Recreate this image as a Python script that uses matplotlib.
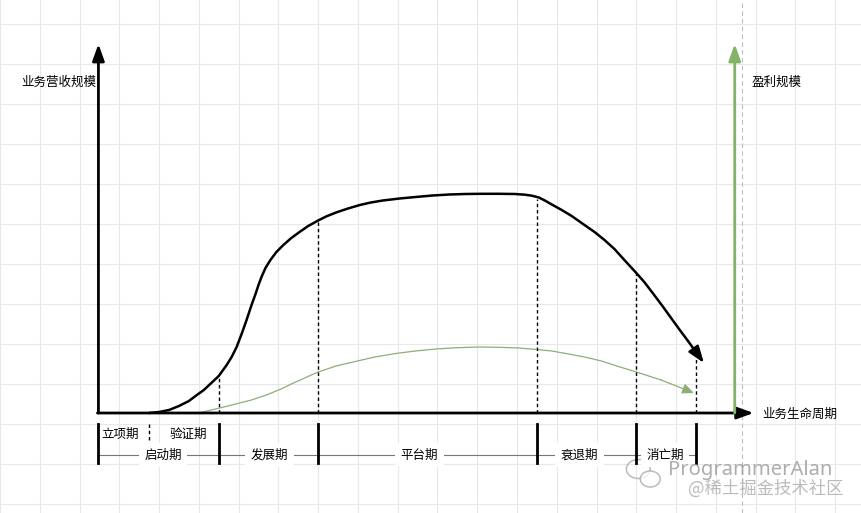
import numpy as np
import matplotlib.pyplot as plt
from matplotlib.patches import Ellipse

plt.rcParams['font.family'] = ['Noto Sans CJK SC', 'DejaVu Sans']

# Business revenue curve (x along lifecycle, height above baseline).
revenue_x = [145, 155, 165, 175, 185, 193, 200, 207, 215, 223, 228, 233, 238, 243, 248, 252, 255, 258, 262,
             267, 273, 280, 288, 297, 305, 315, 323, 333, 345, 357, 368, 380, 397, 413, 430, 447, 463,
             480, 497, 513, 523, 530, 537, 543, 550, 560, 570, 580, 593, 603, 613, 623, 635, 643, 653,
             662, 670, 678, 687, 703]
revenue_h = [0, 1, 3, 7, 12, 18, 23, 29.5, 37, 48, 56, 66, 79, 93, 108, 119, 128, 136, 145,
             153, 161, 168, 175, 181.5, 187, 192.5, 196.5, 200.5, 204.5, 208, 210.5, 212.5, 214.5, 216, 217.5, 218.5, 219,
             219.2, 219.2, 219, 218.3, 217.3, 215.5, 212.5, 208.5, 203, 197, 190, 181, 173, 164, 153, 140, 131, 118,
             106, 95, 84, 72, 50]

# Profit curve.
profit_x = [195, 220, 248, 263, 280, 288, 297, 307, 315, 333, 350, 372, 393, 413, 433, 455, 477, 497,
            517, 535, 550, 567, 583, 600, 617, 635, 660, 693]
profit_h = [0, 6, 13, 18, 25, 29, 33, 37.5, 41, 47, 51, 56, 59.5, 62, 64, 65.3, 66, 65.7,
            65, 63.5, 62, 59, 56, 52, 46.5, 41, 33, 20]

# Phase boundaries and stage labels.
phase_bounds = [94, 215, 315, 535, 635, 695]
phase_tops = [None, 37, 193, 214, 140, 55]
phase_names = ['启动期', '发展期', '平台期', '衰退期', '消亡期']
phase_label_x = [159, 266, 417, 578, 664]
sub_bound = 145
sub_names = ['立项期', '验证期']
sub_label_x = [116, 184]

fig = plt.figure(figsize=(8.61, 5.13), dpi=100)
ax = fig.add_axes([0, 0, 1, 1])
ax.set_xlim(0, 861)
ax.set_ylim(-100, 413)

# Background grid.
ax.set_xticks(np.arange(-5, 861, 40))
ax.set_yticks(np.arange(-91, 413, 40))
ax.grid(True, color='#e8e8e8', lw=0.8)
ax.set_axisbelow(True)
ax.tick_params(length=0, labelbottom=False, labelleft=False)
for s in ax.spines.values():
    s.set_visible(False)
ax.axvline(741, color='#bdbdbd', lw=0.8, ls=(0, (4, 3)))

head = '-|>,head_length=0.5,head_width=0.18'

# Axes arrows.
ax.annotate('', xy=(94, 369), xytext=(94, 0),
            arrowprops=dict(arrowstyle=head, color='black', lw=2, mutation_scale=20, shrinkA=0, shrinkB=0))
ax.annotate('', xy=(753, 0), xytext=(93, 0),
            arrowprops=dict(arrowstyle=head, color='black', lw=2, mutation_scale=20, shrinkA=0, shrinkB=0))
ax.annotate('', xy=(734, 369), xytext=(734, 0),
            arrowprops=dict(arrowstyle=head, color='#82b366', lw=2, mutation_scale=20, shrinkA=0, shrinkB=0))

# Curves.
ax.plot(revenue_x[:-1], revenue_h[:-1], color='black', lw=1.8, solid_capstyle='round', solid_joinstyle='round')
ax.annotate('', xy=(revenue_x[-1], revenue_h[-1]), xytext=(revenue_x[-2], revenue_h[-2]),
            arrowprops=dict(arrowstyle=head, color='black', lw=1.8, mutation_scale=20, shrinkA=0, shrinkB=0))
ax.plot(profit_x[:-1], profit_h[:-1], color='#8fae77', lw=0.9)
ax.annotate('', xy=(profit_x[-1], profit_h[-1]), xytext=(profit_x[-2], profit_h[-2]),
            arrowprops=dict(arrowstyle='-|>,head_length=0.5,head_width=0.22', color='#8fae77', lw=0.9,
                            mutation_scale=14, shrinkA=0, shrinkB=0))

# Dashed guides from curve to baseline.
for x, top in zip(phase_bounds[1:], phase_tops[1:]):
    ax.plot([x, x], [0, top], color='black', lw=1, ls=(0, (2.5, 2)))

# Stage bar under the axis.
ax.plot([phase_bounds[0], phase_bounds[-1]], [-42, -42], color='#777777', lw=0.8)
for x in phase_bounds:
    ax.plot([x, x], [-11, -50], color='black', lw=2)
ax.plot([sub_bound, sub_bound], [-11, -32], color='black', lw=1, ls=(0, (2.5, 2)))
for name, x in zip(phase_names, phase_label_x):
    ax.text(x, -42, name, ha='center', va='center', fontsize=9,
            bbox=dict(fc='white', ec='none', pad=4))
for name, x in zip(sub_names, sub_label_x):
    ax.text(x, -21, name, ha='center', va='center', fontsize=9)

# Axis titles.
ax.text(54, 331, '业务营收规模', ha='center', va='center', fontsize=9)
ax.text(776, 331, '盈利规模', ha='center', va='center', fontsize=9)
ax.text(762, -1, '业务生命周期', ha='left', va='center', fontsize=9)

# Watermark.
ax.add_patch(Ellipse((637, -56), 24, 19, fill=False, ec='#aaaaaa', lw=1.1, alpha=0.8))
ax.add_patch(Ellipse((649, -66), 20, 16, fc='white', ec='#aaaaaa', lw=1.1, alpha=0.8))
ax.text(667, -57, 'ProgrammerAlan', ha='left', va='center', fontsize=14.5, color='#999999', alpha=0.8,
        family=['Noto Sans', 'DejaVu Sans'])
ax.text(843, -76, '@稀土掘金技术社区', ha='right', va='center', fontsize=12.5, color='#aaaaaa', alpha=0.8)

fig.savefig('out.png', dpi=100)
